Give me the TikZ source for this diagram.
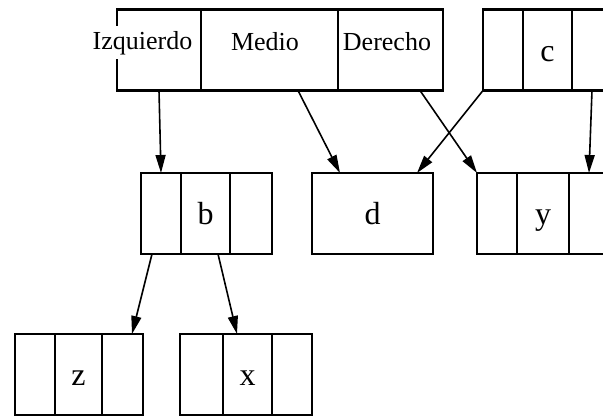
\documentclass[tikz,border=0pt]{standalone}
\usepackage{fontspec}
\setmainfont{Liberation Serif}
\usetikzlibrary{arrows.meta,calc}
\begin{document}
\begin{tikzpicture}[x=1pt,y=-1pt,
  cell/.style={draw, line width=2.4pt, inner sep=0pt, outer sep=0pt,
    minimum height=81pt, font=\fontsize{32}{32}\selectfont,
    text height=22pt, text depth=0pt},
  lbl/.style={fill=white, inner xsep=0pt, inner ysep=4.5pt, anchor=base,
    font=\fontsize{26}{26}\selectfont},
  arr/.style={line width=1.6pt, -{Triangle[length=18pt,width=10pt]}}]
\useasboundingbox (0,0) rectangle (603,416);
\clip (0,0) rectangle (603,416);
% top record
\node[cell, minimum width=84pt]  (izq) at (159,50) {};
\node[cell, minimum width=137pt] (med) at (269.5,50) {};
\node[cell, minimum width=105pt] (der) at (390.5,50) {};
\node[lbl] (tizq) at (142.5,49) {Izquierdo};
\node[lbl] (tmed) at (265,50) {Medio};
\node[lbl] (tder) at (387,50) {Derecho};
% c record
\node[cell, minimum width=40pt] (c1) at (503,50) {};
\node[cell, minimum width=49pt] (c2) at (547.5,50) {c};
\node[cell, minimum width=40pt] (c3) at (592,50) {};
% b record
\node[cell, minimum width=40pt] (b1) at (161,213.5) {};
\node[cell, minimum width=49pt] (b2) at (205.5,213.5) {b};
\node[cell, minimum width=42pt] (b3) at (251,213.5) {};
% d
\node[cell, minimum width=121pt] (d) at (372.5,213.5) {d};
% y record
\node[cell, minimum width=40pt] (y1) at (497,213.5) {};
\node[cell, minimum width=52pt] (y2) at (543,213.5) {y};
\node[cell, minimum width=40pt] (y3) at (589,213.5) {};
% z record
\node[cell, minimum width=40pt] (z1) at (35,374.5) {};
\node[cell, minimum width=47pt] (z2) at (78.5,374.5) {z};
\node[cell, minimum width=41pt] (z3) at (122.5,374.5) {};
% x record
\node[cell, minimum width=43pt] (x1) at (201.5,374.5) {};
\node[cell, minimum width=49pt] (x2) at (247.5,374.5) {x};
\node[cell, minimum width=40pt] (x3) at (292,374.5) {};
% arrows
\draw[arr] (izq.south) -- (b1.north);
\draw[arr] ($(med.south)+(28.5,0)$) -- ($(d.north west)+(28,0)$);
\draw[arr] ($(der.south)+(29.5,0)$) -- (y1.north west);
\draw[arr] (c1.south west) -- ($(d.north east)+(-16,0)$);
\draw[arr] (c3.south) -- (y3.north);
\draw[arr] ($(b1.south)+(-9,0)$) -- ($(z3.north)+(9.5,0)$);
\draw[arr] ($(b2.south)+(12.5,0)$) -- ($(x2.north)+(-10.5,0)$);
\end{tikzpicture}
\end{document}
